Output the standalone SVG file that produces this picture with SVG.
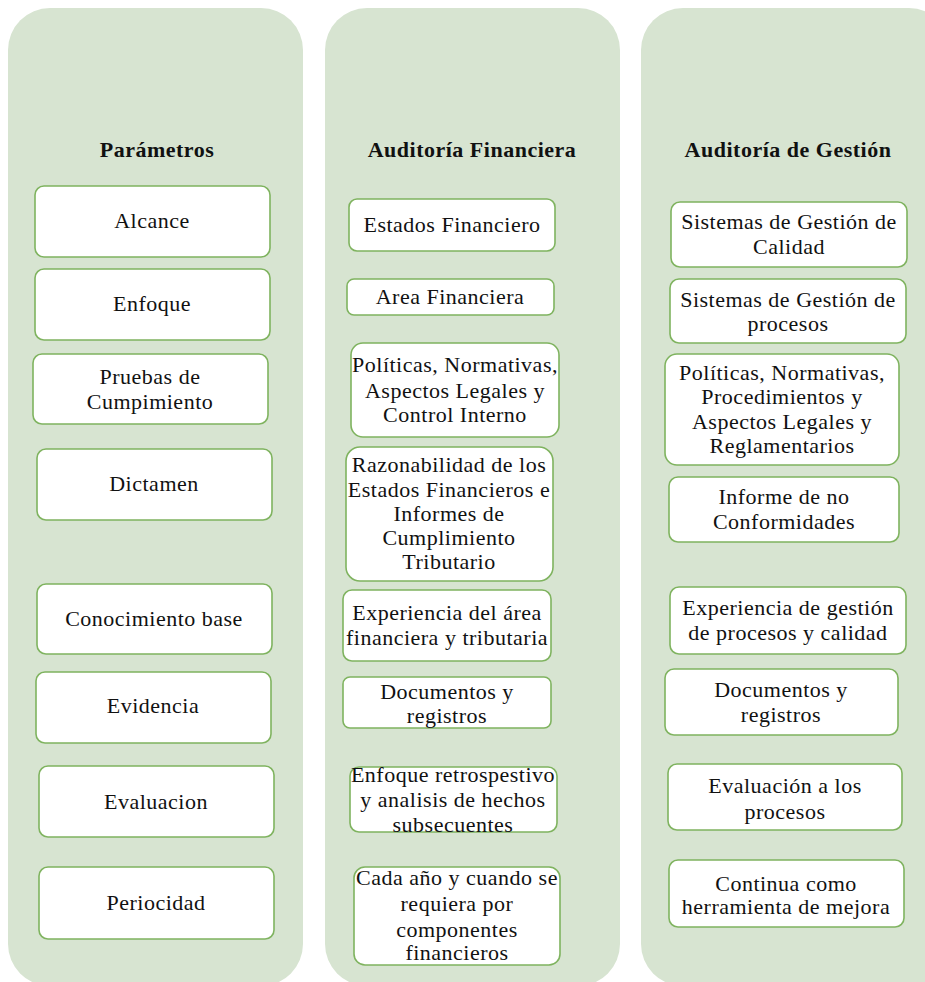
<svg xmlns="http://www.w3.org/2000/svg" width="925" height="982" viewBox="0 0 925 982">
<style>
.panel{fill:#d7e4d1;}
.box{fill:#ffffff;stroke:#7fb35f;stroke-width:1.6;}
.t text{font-size:22px;fill:#111;text-anchor:middle;letter-spacing:0.5px;}
.t .h{font-weight:bold;}
</style>
<rect width="925" height="982" fill="#ffffff"/>
<g class="t" font-family="'Liberation Serif', 'DejaVu Serif', 'Times New Roman', serif">
<g id="col-parametros">
<rect class="panel" x="8" y="8" width="295" height="978" rx="42"/>
<text class="h" x="157" y="157">Parámetros</text>
</g>
<g id="col-financiera">
<rect class="panel" x="325" y="8" width="295" height="978" rx="42"/>
<text class="h" x="472" y="157">Auditoría Financiera</text>
</g>
<g id="col-gestion">
<rect class="panel" x="641" y="8" width="310" height="978" rx="42"/>
<text class="h" x="788" y="157">Auditoría de Gestión</text>
</g>

<g id="p1"><rect class="box" x="35" y="186" width="235" height="71" rx="9"/><text x="152" y="228">Alcance</text></g>
<g id="p2"><rect class="box" x="35" y="269" width="235" height="71" rx="9"/><text x="152" y="311">Enfoque</text></g>
<g id="p3"><rect class="box" x="33" y="354" width="235" height="70" rx="9"/><text x="150" y="384">Pruebas de</text><text x="150" y="409">Cumpimiento</text></g>
<g id="p4"><rect class="box" x="37" y="449" width="235" height="71" rx="9"/><text x="154" y="491">Dictamen</text></g>
<g id="p5"><rect class="box" x="37" y="584" width="235" height="70" rx="9"/><text x="154" y="626">Conocimiento base</text></g>
<g id="p6"><rect class="box" x="36" y="672" width="235" height="71" rx="9"/><text x="153" y="713">Evidencia</text></g>
<g id="p7"><rect class="box" x="39" y="766" width="235" height="71" rx="9"/><text x="156" y="809">Evaluacion</text></g>
<g id="p8"><rect class="box" x="39" y="867" width="235" height="72" rx="9"/><text x="156" y="910">Periocidad</text></g>

<g id="f1"><rect class="box" x="349" y="199" width="206" height="52" rx="8"/><text x="452" y="232">Estados Financiero</text></g>
<g id="f2"><rect class="box" x="347" y="279" width="207" height="36" rx="7"/><text x="450" y="304">Area Financiera</text></g>
<g id="f3"><rect class="box" x="351" y="343" width="208" height="94" rx="12"/><text x="455" y="372">Políticas, Normativas,</text><text x="455" y="398">Aspectos Legales y</text><text x="455" y="422">Control Interno</text></g>
<g id="f4"><rect class="box" x="346" y="447" width="207" height="134" rx="14"/><text x="449" y="472">Razonabilidad de los</text><text x="449" y="497">Estados Financieros e</text><text x="449" y="521">Informes de</text><text x="449" y="545">Cumplimiento</text><text x="449" y="569">Tributario</text></g>
<g id="f5"><rect class="box" x="343" y="590" width="208" height="71" rx="9"/><text x="447" y="620">Experiencia del área</text><text x="447" y="645">financiera y tributaria</text></g>
<g id="f6"><rect class="box" x="343" y="677" width="208" height="51" rx="7"/><text x="447" y="699">Documentos y</text><text x="447" y="723">registros</text></g>
<g id="f7"><rect class="box" x="350" y="767" width="207" height="65" rx="9"/><text x="453" y="782">Enfoque retrospestivo</text><text x="453" y="807">y analisis de hechos</text><text x="453" y="832">subsecuentes</text></g>
<g id="f8"><rect class="box" x="354" y="867" width="206" height="98" rx="11"/><text x="457" y="885">Cada año y cuando se</text><text x="457" y="911">requiera por</text><text x="457" y="937">componentes</text><text x="457" y="960">financieros</text></g>

<g id="g1"><rect class="box" x="671" y="202" width="236" height="65" rx="9"/><text x="789" y="229">Sistemas de Gestión de</text><text x="789" y="254">Calidad</text></g>
<g id="g2"><rect class="box" x="670" y="279" width="236" height="64" rx="9"/><text x="788" y="307">Sistemas de Gestión de</text><text x="788" y="331">procesos</text></g>
<g id="g3"><rect class="box" x="665" y="354" width="234" height="111" rx="12"/><text x="782" y="380">Políticas, Normativas,</text><text x="782" y="404">Procedimientos y</text><text x="782" y="429">Aspectos Legales y</text><text x="782" y="453">Reglamentarios</text></g>
<g id="g4"><rect class="box" x="669" y="477" width="230" height="65" rx="9"/><text x="784" y="504">Informe de no</text><text x="784" y="529">Conformidades</text></g>
<g id="g5"><rect class="box" x="670" y="587" width="236" height="67" rx="9"/><text x="788" y="615">Experiencia de gestión</text><text x="788" y="640">de procesos y calidad</text></g>
<g id="g6"><rect class="box" x="665" y="669" width="233" height="66" rx="9"/><text x="781" y="697">Documentos y</text><text x="781" y="722">registros</text></g>
<g id="g7"><rect class="box" x="668" y="764" width="234" height="66" rx="9"/><text x="785" y="793">Evaluación a los</text><text x="785" y="819">procesos</text></g>
<g id="g8"><rect class="box" x="669" y="860" width="235" height="67" rx="9"/><text x="786" y="891">Continua como</text><text x="786" y="914">herramienta de mejora</text></g>
</g>
<g id="connectors"></g>
</svg>
